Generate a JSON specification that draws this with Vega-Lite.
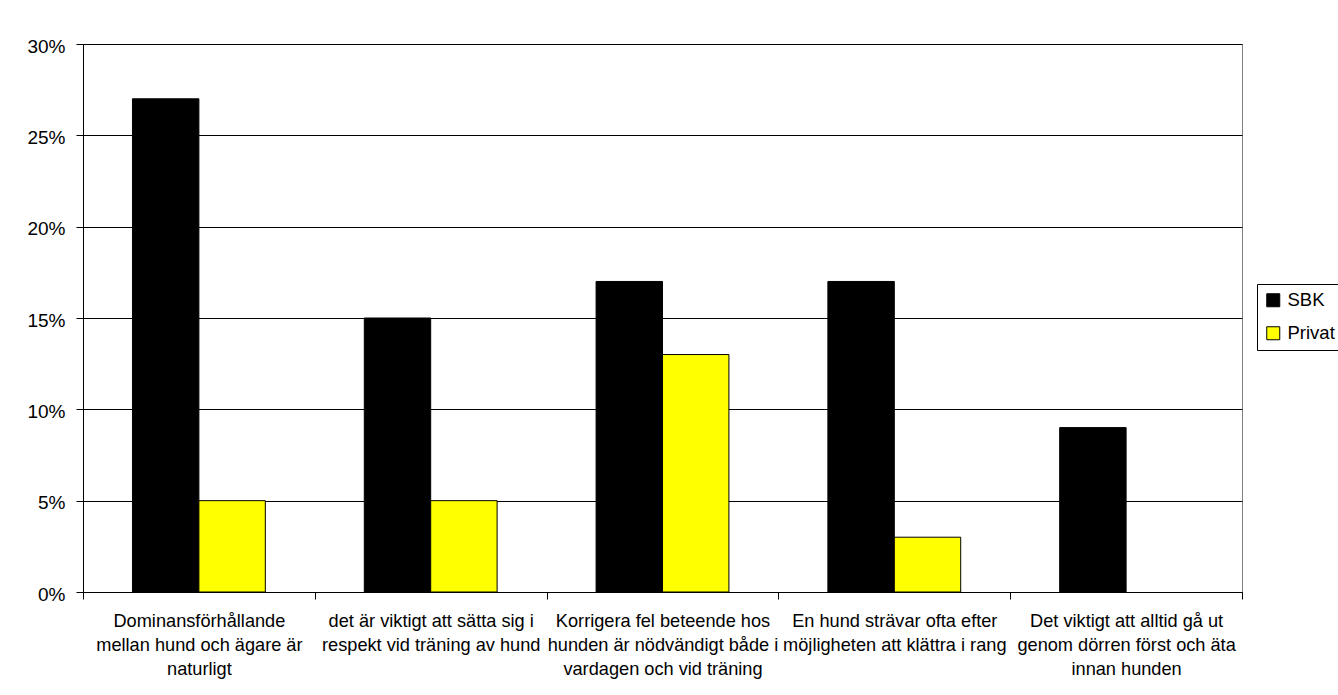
{
  "$schema": "https://vega.github.io/schema/vega-lite/v6.json",
  "width": 1159,
  "height": 548,
  "autosize": {"type": "none"},
  "padding": {"left": 83, "top": 44, "right": 96, "bottom": 103},
  "background": "white",
  "config": {
    "font": "Liberation Sans",
    "view": {"stroke": "#808080", "strokeWidth": 1}
  },
  "data": {
    "values": [
      {"påstående": "Dominansförhållande mellan hund och ägare är naturligt", "grupp": "SBK", "andel": 0.27},
      {"påstående": "Dominansförhållande mellan hund och ägare är naturligt", "grupp": "Privat", "andel": 0.05},
      {"påstående": "det är viktigt att sätta sig i respekt vid träning av hund", "grupp": "SBK", "andel": 0.15},
      {"påstående": "det är viktigt att sätta sig i respekt vid träning av hund", "grupp": "Privat", "andel": 0.05},
      {"påstående": "Korrigera fel beteende hos hunden är nödvändigt både i vardagen och vid träning", "grupp": "SBK", "andel": 0.17},
      {"påstående": "Korrigera fel beteende hos hunden är nödvändigt både i vardagen och vid träning", "grupp": "Privat", "andel": 0.13},
      {"påstående": "En hund strävar ofta efter möjligheten att klättra i rang", "grupp": "SBK", "andel": 0.17},
      {"påstående": "En hund strävar ofta efter möjligheten att klättra i rang", "grupp": "Privat", "andel": 0.03},
      {"påstående": "Det viktigt att alltid gå ut genom dörren först och äta innan hunden", "grupp": "SBK", "andel": 0.09},
      {"påstående": "Det viktigt att alltid gå ut genom dörren först och äta innan hunden", "grupp": "Privat", "andel": 0.0}
    ]
  },
  "mark": {"type": "bar", "stroke": "#000000", "strokeWidth": 1},
  "encoding": {
    "x": {
      "field": "påstående",
      "type": "nominal",
      "sort": null,
      "scale": {"paddingInner": 0, "paddingOuter": 0},
      "axis": {
        "title": null,
        "labelAngle": 0,
        "tickBand": "extent",
        "domainColor": "#000000",
        "tickColor": "#000000",
        "tickSize": 7,
        "labelFontSize": 18.2,
        "labelColor": "#000000",
        "labelLineHeight": 24,
        "labelPadding": 13,
        "labelBaseline": "top",
        "labelLimit": 400,
        "labelExpr": "({'Dominansförhållande mellan hund och ägare är naturligt': ['Dominansförhållande', 'mellan hund och ägare är', 'naturligt'], 'det är viktigt att sätta sig i respekt vid träning av hund': ['det är viktigt att sätta sig i', 'respekt vid träning av hund'], 'Korrigera fel beteende hos hunden är nödvändigt både i vardagen och vid träning': ['Korrigera fel beteende hos', 'hunden är nödvändigt både i', 'vardagen och vid träning'], 'En hund strävar ofta efter möjligheten att klättra i rang': ['En hund strävar ofta efter', 'möjligheten att klättra i rang'], 'Det viktigt att alltid gå ut genom dörren först och äta innan hunden': ['Det viktigt att alltid gå ut', 'genom dörren först och äta', 'innan hunden']})[datum.label]"
      }
    },
    "xOffset": {
      "field": "grupp",
      "type": "nominal",
      "sort": ["SBK", "Privat"],
      "scale": {"paddingInner": 0, "paddingOuter": 0.745}
    },
    "y": {
      "field": "andel",
      "type": "quantitative",
      "scale": {"domain": [0, 0.3], "nice": false},
      "axis": {
        "title": null,
        "values": [0, 0.05, 0.1, 0.15, 0.2, 0.25, 0.3],
        "format": ".0%",
        "grid": true,
        "gridColor": "#000000",
        "gridWidth": 1,
        "gridOpacity": 1,
        "domainColor": "#000000",
        "tickColor": "#000000",
        "tickSize": 7,
        "labelFontSize": 19,
        "labelColor": "#000000",
        "labelPadding": 11,
        "labelOffset": 2
      }
    },
    "strokeOpacity": {
      "condition": {"test": "datum.andel > 0", "value": 1},
      "value": 0
    },
    "color": {
      "field": "grupp",
      "type": "nominal",
      "sort": ["SBK", "Privat"],
      "scale": {"domain": ["SBK", "Privat"], "range": ["#000000", "#FFFF00"]},
      "legend": {
        "title": null,
        "orient": "none",
        "legendX": 1174,
        "legendY": 240,
        "strokeColor": "#000000",
        "fillColor": "#FFFFFF",
        "padding": 7,
        "symbolType": "square",
        "symbolSize": 169,
        "symbolStrokeColor": "#000000",
        "symbolStrokeWidth": 1,
        "symbolOpacity": 1,
        "labelFontSize": 18.5,
        "labelColor": "#000000",
        "labelOffset": 5,
        "rowPadding": 14
      }
    }
  }
}
